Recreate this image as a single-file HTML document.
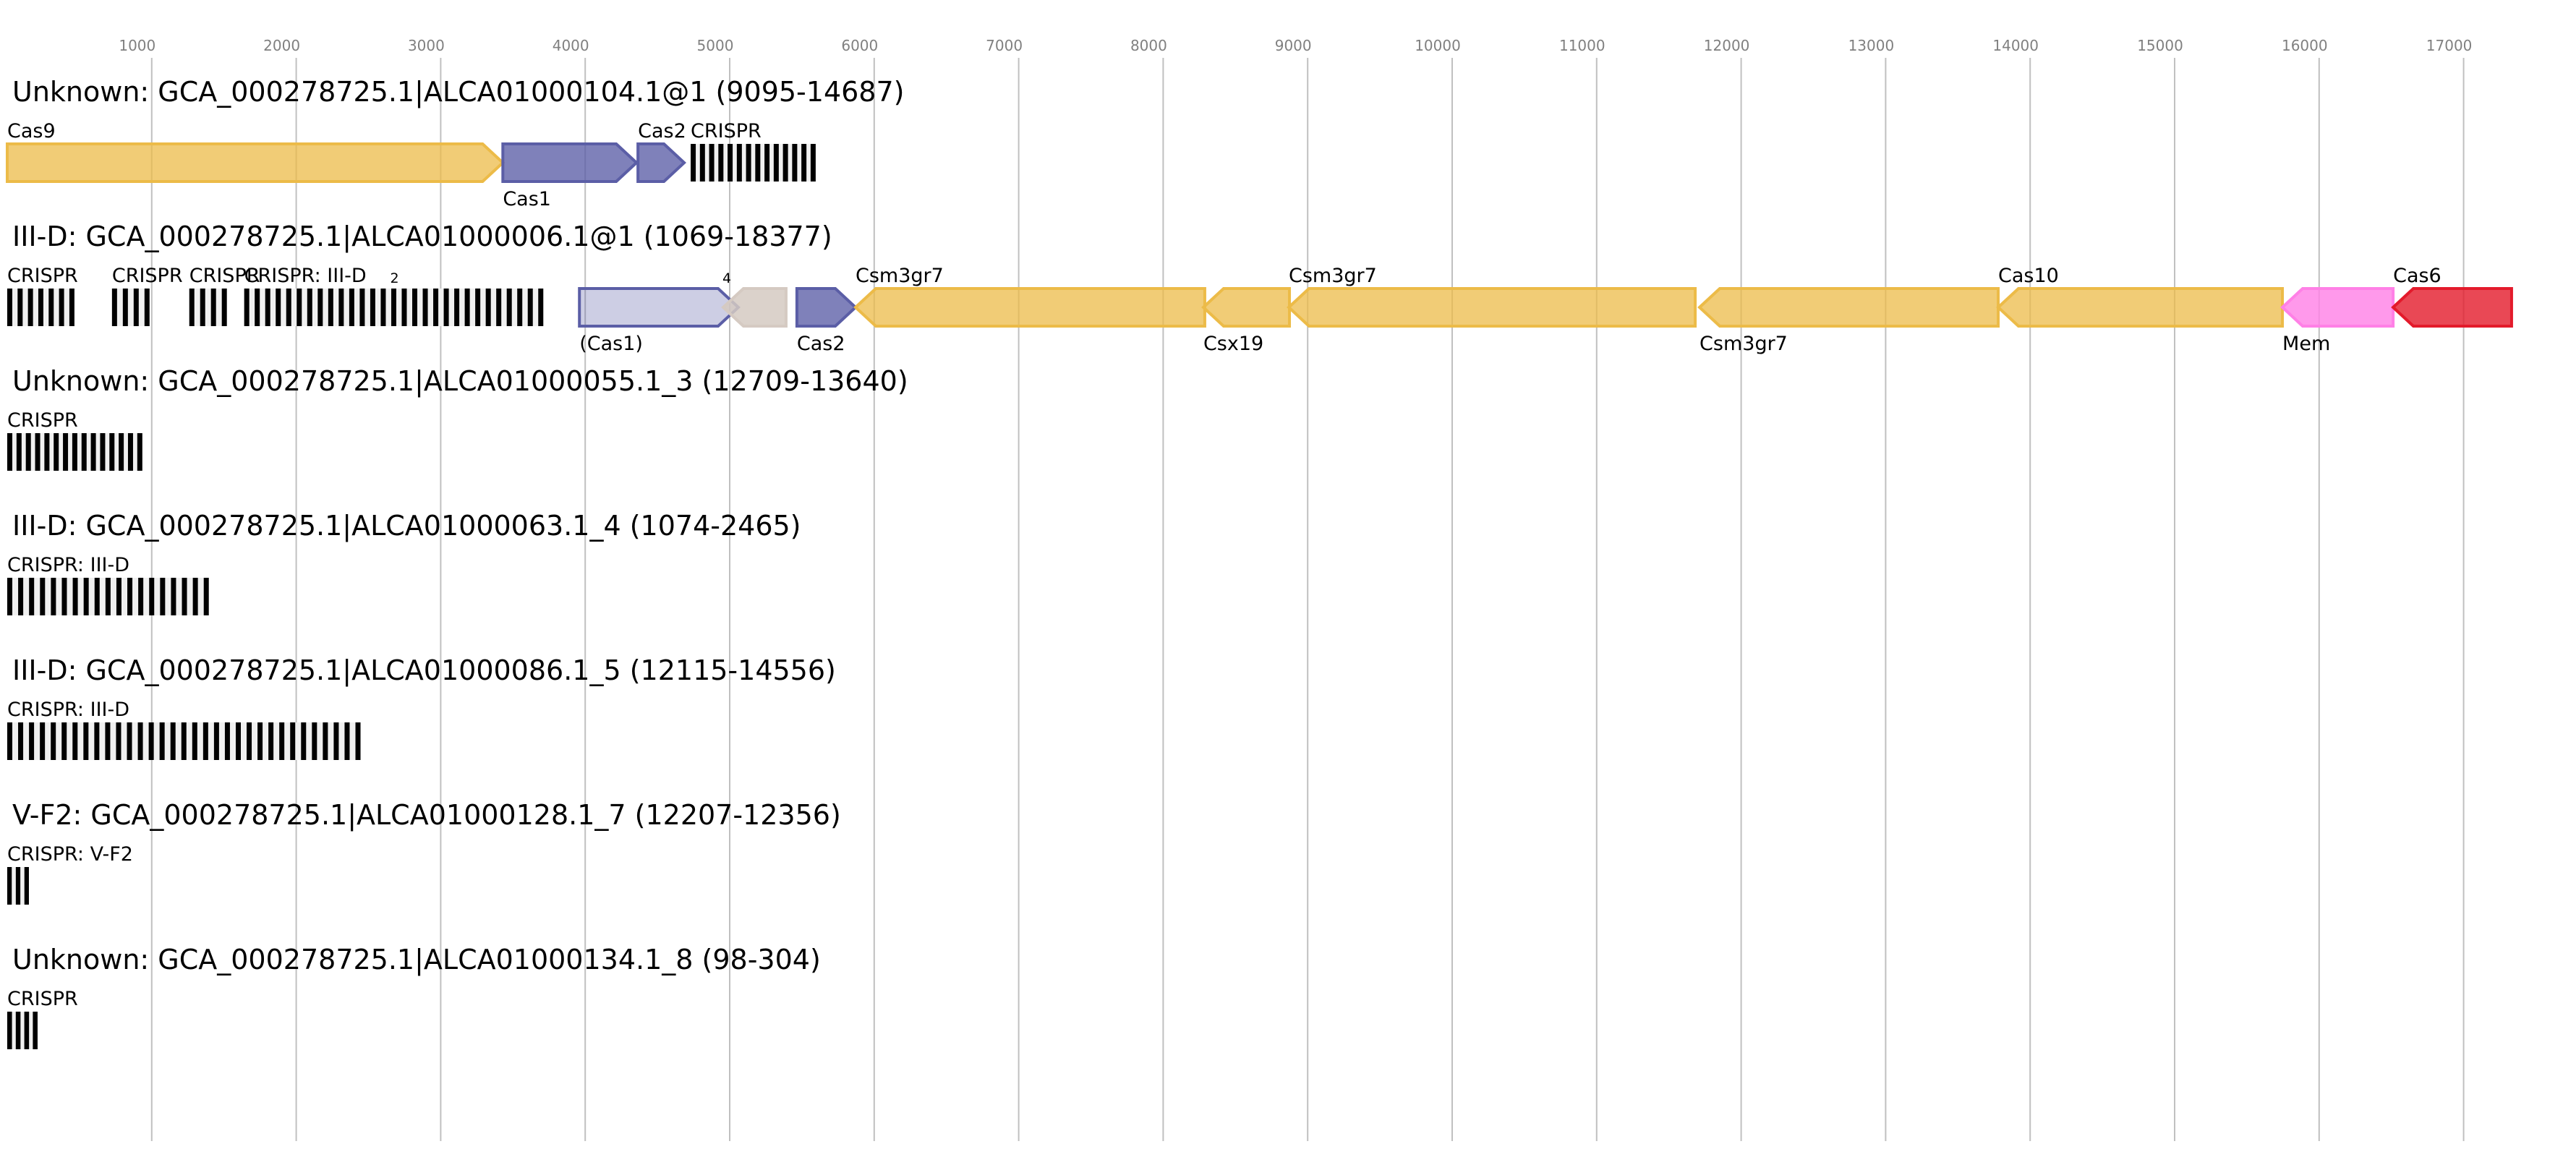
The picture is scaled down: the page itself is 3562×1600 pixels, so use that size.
<!DOCTYPE html>
<html><head><meta charset="utf-8"><style>
html,body{margin:0;padding:0;background:#fff;}
svg{display:block;font-family:"DejaVu Sans","Liberation Sans",sans-serif;}
</style></head><body>
<svg id="chart" width="3562" height="1600" viewBox="0 0 3562 1600" xmlns="http://www.w3.org/2000/svg"></svg>
<script>
const tickValues = [1000,2000,3000,4000,5000,6000,7000,8000,9000,10000,11000,12000,13000,14000,15000,16000,17000];
const rowTitles = [
 "Unknown: GCA_000278725.1|ALCA01000104.1@1 (9095-14687)",
 "III-D: GCA_000278725.1|ALCA01000006.1@1 (1069-18377)",
 "Unknown: GCA_000278725.1|ALCA01000055.1_3 (12709-13640)",
 "III-D: GCA_000278725.1|ALCA01000063.1_4 (1074-2465)",
 "III-D: GCA_000278725.1|ALCA01000086.1_5 (12115-14556)",
 "V-F2: GCA_000278725.1|ALCA01000128.1_7 (12207-12356)",
 "Unknown: GCA_000278725.1|ALCA01000134.1_8 (98-304)"
];
const geneRows   = [0,0,0,1,1,1,1,1,1,1,1,1,1];
const geneStarts = [0,3430,4365,3960,4955,5465,5871,8278,8869,11712,13779,15746,16512];
const geneEnds   = [3430,4355,4685,5060,5390,5871,8288,8874,11682,13779,15746,16512,17332];
const geneStrand = [1,1,1,1,-1,1,-1,-1,-1,-1,-1,-1,-1];
const geneLabels = ["Cas9","Cas1","Cas2","(Cas1)","","Cas2","Csm3gr7","Csx19","Csm3gr7","Csm3gr7","Cas10","Mem","Cas6"];
const geneLabelPos = ["top","bottom","top","bottom","top","bottom","top","bottom","top","bottom","top","bottom","top"];
const geneTypes = ["yellow","purple","purple","lightpurple","beige","purple","yellow","yellow","yellow","yellow","yellow","pink","red"];
const arrRows   = [0,1,1,1,1,2,3,4,5,6];
const arrStarts = [4730,0,725,1260,1640,0,0,0,0,0];
const arrEnds   = [5595,465,985,1520,3710,935,1395,2445,150,210];
const arrCounts = [14,7,4,4,29,15,19,33,3,4];
const arrLabels = ["CRISPR","CRISPR","CRISPR","CRISPR","CRISPR: III-D","CRISPR","CRISPR: III-D","CRISPR: III-D","CRISPR: V-F2","CRISPR"];
const extraLabels = ["2","4"];
const extraLabelVals = [2650,4950];

const NS="http://www.w3.org/2000/svg";
const svg=document.getElementById('chart');
const X=v=>10+v*0.1998;
const rowTop=r=>199+r*200;
const H=52, TIP=28;
const styles={
 yellow:{fill:"rgba(236,187,72,0.75)",stroke:"#ecbb48"},
 purple:{fill:"rgba(91,94,166,0.78)",stroke:"#5b5ea6"},
 lightpurple:{fill:"rgba(91,94,166,0.3)",stroke:"#5b5ea6"},
 beige:{fill:"rgba(213,202,194,0.85)",stroke:"#d5cac2"},
 pink:{fill:"rgba(255,128,230,0.8)",stroke:"#ff80e6"},
 red:{fill:"rgba(227,26,43,0.8)",stroke:"#e31a2b"}
};
function mk(tag,attrs,parent){const e=document.createElementNS(NS,tag);for(const k in attrs)e.setAttribute(k,attrs[k]);(parent||svg).appendChild(e);return e;}

tickValues.forEach((v,i)=>{
 const x=X(v);
 const g=mk('line',{x1:x,x2:x,y1:80,y2:1578,stroke:"#c0c0c0","stroke-width":2});
 
 
 const t=mk('text',{x:x-20,y:70,"text-anchor":"middle","font-size":20,fill:"#808080"});
 t.textContent=v;
 
 
});

rowTitles.forEach((s,r)=>{
 const t=mk('text',{x:17,y:140+r*200,"font-size":38,fill:"#000"});
 t.textContent=s;
 
 
});

arrStarts.forEach((s,i)=>{
 const x1=X(s), x2=X(arrEnds[i]), y=rowTop(arrRows[i]);
 const g=mk('g',{});
 
 
 mk('rect',{x:x1,y:y,width:x2-x1,height:H,fill:"#f0f0f0"},g);
 const n=arrCounts[i], bw=Math.min(7,(x2-x1)/(n*1.6));
 const step=n>1?(x2-x1-bw)/(n-1):0;
 for(let k=0;k<n;k++){
  const b=mk('rect',{x:x1+k*step,y:y,width:bw,height:H,fill:"#000"},g);
  
  
 }
 const t=mk('text',{x:x1,y:y-9,"font-size":27,fill:"#000"});
 t.textContent=arrLabels[i];
 
 
});

geneStarts.forEach((s,i)=>{
 const x1=X(s), x2=X(geneEnds[i]), y=rowTop(geneRows[i]);
 const st=styles[geneTypes[i]];
 const tip=Math.min(TIP,(x2-x1)*0.5);
 let pts;
 if(geneStrand[i]>0) pts=[[x1,y],[x2-tip,y],[x2,y+H/2],[x2-tip,y+H],[x1,y+H]];
 else pts=[[x1,y+H/2],[x1+tip,y],[x2,y],[x2,y+H],[x1+tip,y+H]];
 const p=mk('polygon',{points:pts.map(a=>a.join(',')).join(' '),fill:st.fill,stroke:st.stroke,"stroke-width":4});
 
 
 if(geneLabels[i]){
  const ty=geneLabelPos[i]==="top"?y-9:y+H+33;
  const t=mk('text',{x:x1,y:ty,"font-size":27,fill:"#000"});
  t.textContent=geneLabels[i];
  
  
 }
});

extraLabels.forEach((s,i)=>{
 const t=mk('text',{x:X(extraLabelVals[i]),y:391,"font-size":19,fill:"#000"});
 t.textContent=s;
 
 
});
</script>
</body></html>
